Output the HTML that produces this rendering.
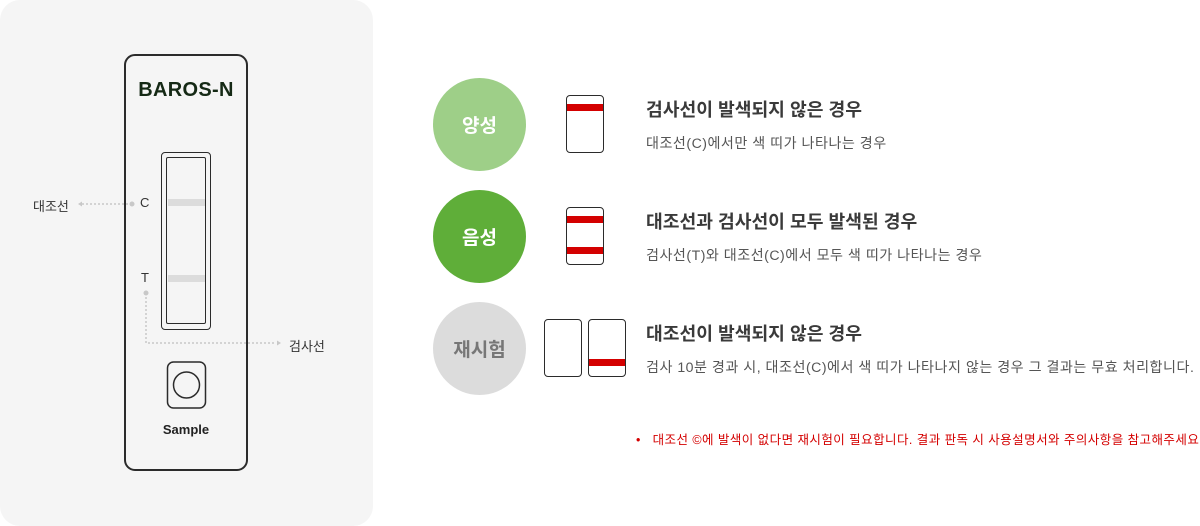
<!DOCTYPE html>
<html><head><meta charset="utf-8"><style>
*{margin:0;padding:0;box-sizing:border-box}
body{width:1200px;height:526px;background:#fff;position:relative;overflow:hidden;font-family:"Liberation Sans","Noto Sans CJK KR",sans-serif}
.a{position:absolute}
.panel{left:0;top:0;width:373px;height:526px;background:#f5f5f5;border-radius:20px}
.dev{left:124px;top:54px;width:124px;height:417px;border:2px solid #2b2b2b;border-radius:11px}
.win{left:161px;top:152px;width:50px;height:178px;border:1.5px solid #2b2b2b;border-radius:4px}
.win2{left:166px;top:157px;width:40px;height:167px;border:1.5px solid #2b2b2b;border-radius:2px}
.gl{left:168px;width:37px;height:7px;background:#dcdcdc}
.lbl{font-size:13px;color:#333}
.circ{width:93px;height:93px;border-radius:50%;color:#fff;font-size:19px;font-weight:bold;display:flex;align-items:center;justify-content:center}
.strip{width:38px;height:58px;border:1.5px solid #2b2b2b;border-radius:4px;overflow:hidden}
.red{position:absolute;left:0;right:0;height:7px;background:#d40000}
.t{font-size:18.2px;font-weight:bold;color:#3a3a3a;left:646px}
.s{font-size:14.1px;color:#555;left:646px;white-space:nowrap;letter-spacing:0.5px}
</style></head><body>
<div class="a panel"></div>
<div class="a dev"></div>
<div class="a" style="left:124px;top:79px;width:124px;text-align:center;font-size:20px;font-weight:bold;color:#152915;letter-spacing:0.3px">BAROS-N</div>
<div class="a win"></div>
<div class="a win2"></div>
<div class="a gl" style="top:199px"></div>
<div class="a gl" style="top:275px"></div>
<div class="a lbl" style="left:140px;top:195px">C</div>
<div class="a lbl" style="left:141px;top:270px">T</div>
<svg class="a" style="left:0;top:0" width="373" height="526">
<g stroke="#c8c8c8" stroke-width="1.5" stroke-dasharray="2 2" fill="none">
<line x1="82" y1="204" x2="130" y2="204"/>
<path d="M146 293 V343 H276"/>
</g>
<circle cx="132" cy="204" r="2.5" fill="#c8c8c8"/>
<circle cx="146" cy="293" r="2.5" fill="#c8c8c8"/>
<polygon points="78,204 82,201.5 82,206.5" fill="#c8c8c8"/>
<polygon points="281,343 277,340.5 277,345.5" fill="#c8c8c8"/>
<rect x="167.5" y="362" width="38" height="46" rx="6" fill="none" stroke="#2b2b2b" stroke-width="1.5"/>
<circle cx="186.5" cy="385" r="13" fill="none" stroke="#2b2b2b" stroke-width="1.5"/>
</svg>
<div class="a lbl" style="left:33px;top:196px">대조선</div>
<div class="a lbl" style="left:289px;top:336px">검사선</div>
<div class="a" style="left:124px;top:422px;width:124px;text-align:center;font-size:13px;font-weight:bold;color:#222">Sample</div>

<div class="a circ" style="left:433px;top:78px;background:#9ecf88">양성</div>
<div class="a circ" style="left:433px;top:190px;background:#5fae39">음성</div>
<div class="a circ" style="left:433px;top:302px;background:#dcdcdc;color:#777">재시험</div>

<div class="a strip" style="left:566px;top:95px"><div class="red" style="top:8px"></div></div>
<div class="a strip" style="left:566px;top:207px"><div class="red" style="top:8px"></div><div class="red" style="top:39px"></div></div>
<div class="a strip" style="left:544px;top:319px"></div>
<div class="a strip" style="left:588px;top:319px"><div class="red" style="top:39px"></div></div>

<div class="a t" style="top:96px">검사선이 발색되지 않은 경우</div>
<div class="a s" style="top:133px">대조선(C)에서만 색 띠가 나타나는 경우</div>
<div class="a t" style="top:208px">대조선과 검사선이 모두 발색된 경우</div>
<div class="a s" style="top:245px">검사선(T)와 대조선(C)에서 모두 색 띠가 나타나는 경우</div>
<div class="a t" style="top:320px">대조선이 발색되지 않은 경우</div>
<div class="a s" style="top:357px">검사 10분 경과 시, 대조선(C)에서 색 띠가 나타나지 않는 경우 그 결과는 무효 처리합니다.</div>
<div class="a" style="left:636px;top:429px;font-size:12.5px;color:#d40000;white-space:nowrap;letter-spacing:0.45px">•&nbsp;&nbsp; 대조선 ©에 발색이 없다면 재시험이 필요합니다. 결과 판독 시 사용설명서와 주의사항을 참고해주세요</div>
</body></html>
